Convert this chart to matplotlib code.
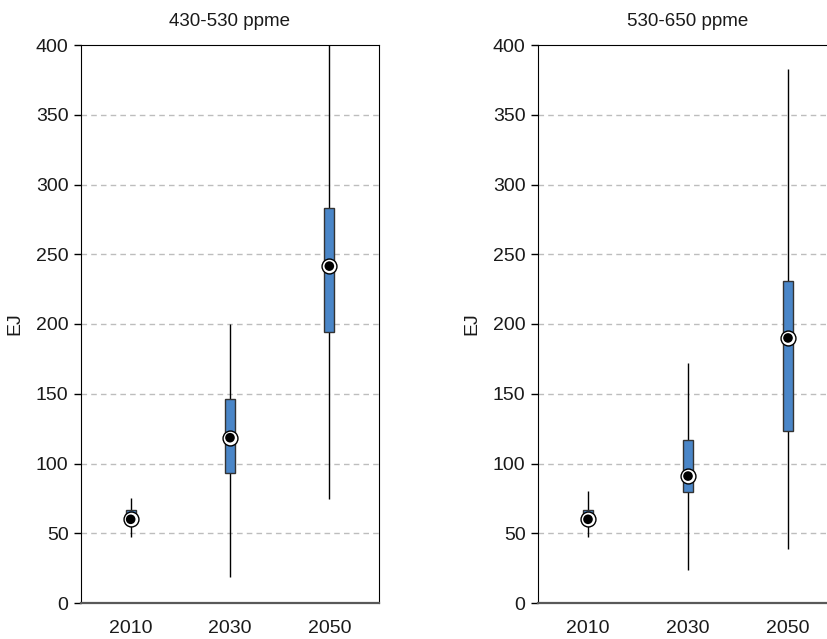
import matplotlib
matplotlib.use("Agg")
import matplotlib.pyplot as plt
import numpy as np

plt.rcParams['font.family'] = ['Liberation Sans', 'DejaVu Sans']

years = ['2010', '2030', '2050']
titles = ['430-530 ppme', '530-650 ppme']

# per panel: whisker low, box low, median, box high, whisker high
low_a = [47, 18.5, 74.5]
q1_a = [60, 93, 194]
med_a = [60, 118.5, 241.5]
q3_a = [67, 146, 283.5]
high_a = [75, 200, 400]

low_b = [47.5, 23.5, 38.5]
q1_b = [60, 79.5, 123]
med_b = [60, 91, 190]
q3_b = [67, 117, 231]
high_b = [80, 172, 382.5]

panels = [
    (low_a, q1_a, med_a, q3_a, high_a),
    (low_b, q1_b, med_b, q3_b, high_b),
]

fig = plt.figure(figsize=(8.28, 6.39), dpi=100)
ax_left = fig.add_axes([81/828, 36/639, 298/828, 558/639])
ax_right = fig.add_axes([538/828, 36/639, 300/828, 558/639])

box_color = '#4a86c8'

for ax, title, (low, q1, med, q3, high) in zip([ax_left, ax_right], titles, panels):
    x = np.arange(len(years))
    ax.vlines(x, low, high, color='black', lw=1, zorder=2)
    ax.bar(x, np.array(q3) - np.array(q1), bottom=q1, width=0.1,
           color=box_color, edgecolor='#333333', linewidth=1, zorder=3)
    ax.scatter(x, med, s=115, facecolor='white', edgecolor='black', linewidths=1, zorder=4)
    ax.scatter(x, med, s=48, facecolor='black', edgecolor='none', zorder=5)

    ax.set_xlim(-0.5, 2.5)
    ax.set_ylim(0, 400)
    ax.set_yticks(np.arange(0, 401, 50))
    ax.set_xticks(x)
    ax.set_xticklabels(years)
    for yv in range(50, 400, 50):
        ax.axhline(yv, color='#bdbdbd', lw=1, ls=(0, (4, 3)), zorder=1)

    ax.tick_params(axis='x', length=0, labelsize=14, pad=12, colors='#1a1a1a')
    ax.tick_params(axis='y', length=5, width=1, direction='out', labelsize=14, pad=4,
                   colors='#1a1a1a', color='black')
    ax.set_ylabel('EJ', fontsize=14, labelpad=9, color='#1a1a1a')
    ax.set_title(title, fontsize=13.5, pad=14, color='#1a1a1a')

    ax.spines['left'].set_color('black')
    ax.spines['bottom'].set_color('#595959')
    ax.spines['bottom'].set_linewidth(1.6)
    ax.spines['top'].set_color('black')
    ax.spines['right'].set_color('black')

fig.savefig('out.png', dpi=100)
